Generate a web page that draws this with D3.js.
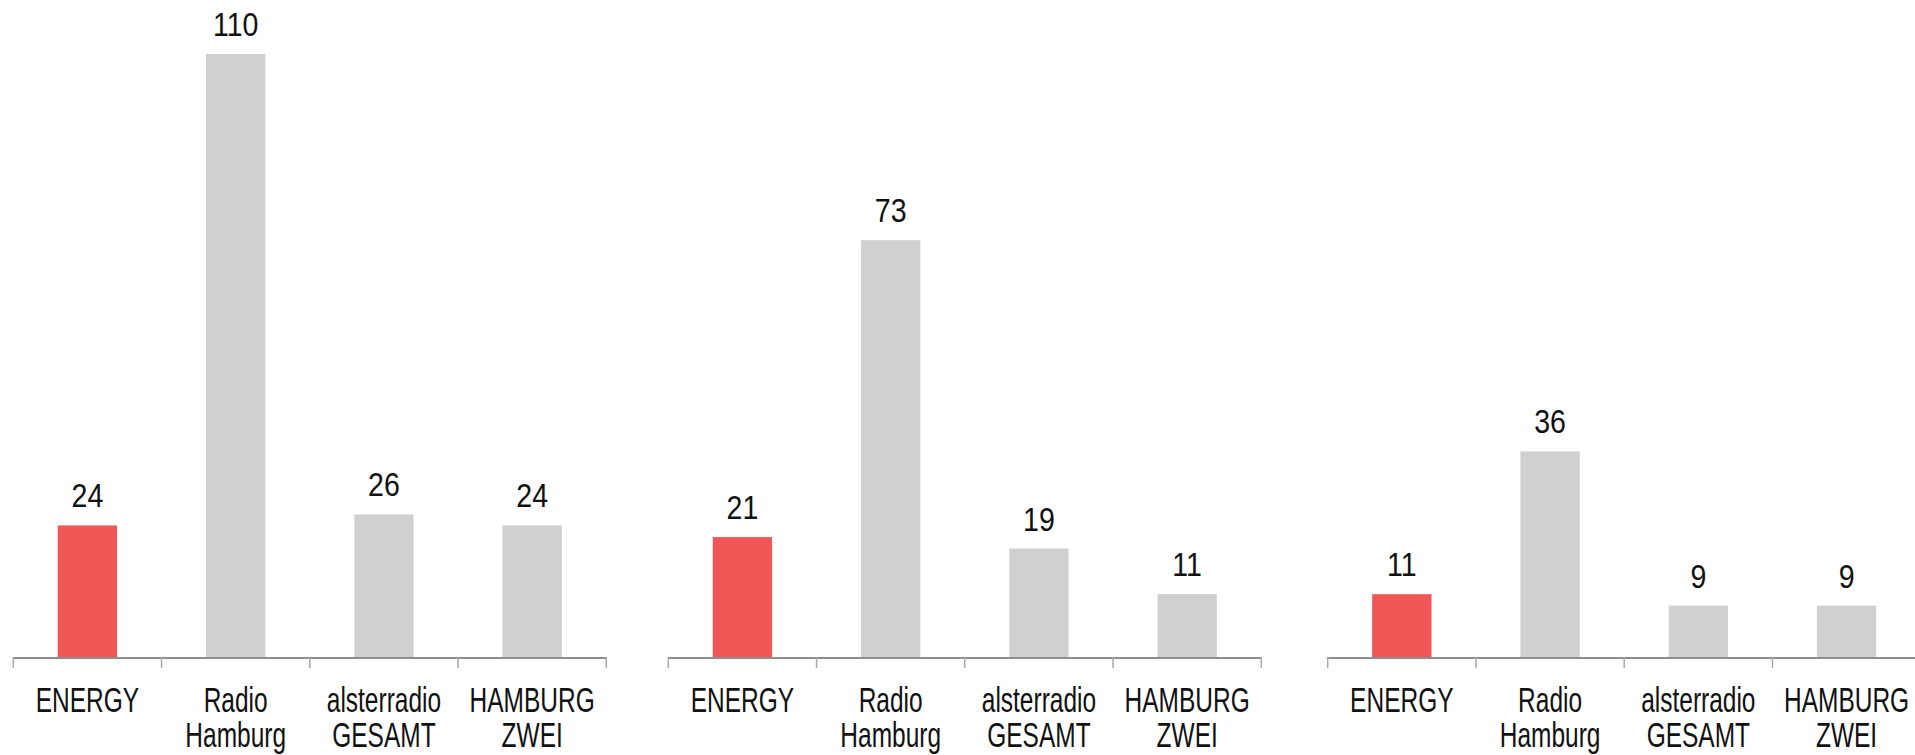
<!DOCTYPE html>
<html>
<head>
<meta charset="utf-8">
<script src="https://cdn.jsdelivr.net/npm/d3@7"></script>
<style>
  html, body { margin: 0; padding: 0; background: #fff; }
  svg { display: block; }
  text { font-family: "Liberation Sans", Arial, Helvetica, sans-serif; fill: #111; }
</style>
</head>
<body>
<svg id="chart" width="1915" height="755"></svg>
<script>
// ---- data ----
const categories = ["ENERGY", "Radio Hamburg", "alsterradio GESAMT", "HAMBURG ZWEI"];
const panel1Values = [24, 110, 26, 24];
const panel2Values = [21, 73, 19, 11];
const panel3Values = [11, 36, 9, 9];
const highlightCategory = "ENERGY";

// ---- layout ----
const baseY = 657;
const plotH = 603;
const panelX = [13.3, 668.3, 1327.7];
const panelW = 593;
const panelDomainMax = [110, 105.6, 105.6];
const panels = [panel1Values, panel2Values, panel3Values];
const valueScaleX = 0.84;   // condensed look
const catScaleX = 0.70;

const svg = d3.select("#chart");

panels.forEach((vals, pi) => {
  const x0 = panelX[pi];
  const x = d3.scaleBand()
    .domain(categories)
    .range([x0, x0 + panelW])
    .paddingInner(0.6)
    .paddingOuter(0.3);
  const y = d3.scaleLinear()
    .domain([0, panelDomainMax[pi]])
    .range([baseY, baseY - plotH]);

  const g = svg.append("g");
  const rows = categories.map((c, i) => ({ c, v: vals[i] }));
  const cx = d => x(d.c) + x.bandwidth() / 2;

  // bars
  g.selectAll("rect.bar").data(rows).enter().append("rect")
    .attr("class", "bar")
    .attr("x", d => x(d.c))
    .attr("width", x.bandwidth())
    .attr("y", d => y(d.v))
    .attr("height", d => y(0) - y(d.v))
    .attr("fill", d => d.c === highlightCategory ? "#F25757" : "#D0D0D0");

  // value labels
  g.selectAll("text.val").data(rows).enter().append("text")
    .attr("class", "val")
    .attr("transform", d => `translate(${cx(d)},${y(d.v) - 18}) scale(${valueScaleX},1)`)
    .attr("text-anchor", "middle")
    .style("font-size", "34px")
    .text(d => d.v);

  // axis line
  const step = x.step();
  const r = x.range();
  g.append("line")
    .attr("x1", r[0]).attr("x2", r[1])
    .attr("y1", y(0) + 1).attr("y2", y(0) + 1)
    .attr("stroke", "#8e8e8e").attr("stroke-width", 2);

  // boundary ticks
  const bounds = d3.range(categories.length + 1).map(i => r[0] + i * step);
  g.selectAll("line.tick").data(bounds).enter().append("line")
    .attr("class", "tick")
    .attr("x1", d => d).attr("x2", d => d)
    .attr("y1", y(0)).attr("y2", y(0) + 11)
    .attr("stroke", "#a8a8a8").attr("stroke-width", 1.5);

  // category labels
  const lbl = g.selectAll("text.cat").data(rows).enter().append("text")
    .attr("class", "cat")
    .attr("text-anchor", "middle")
    .style("font-size", "35px")
    .attr("transform", d => `translate(${cx(d)},${y(0) + 55}) scale(${catScaleX},1)`);
  lbl.each(function(d) {
    const words = d.c.split(" ");
    const t = d3.select(this);
    words.forEach((w, k) => {
      t.append("tspan")
        .attr("x", 0)
        .attr("dy", k === 0 ? 0 : 35)
        .text(w);
    });
  });
});
</script>
</body>
</html>
